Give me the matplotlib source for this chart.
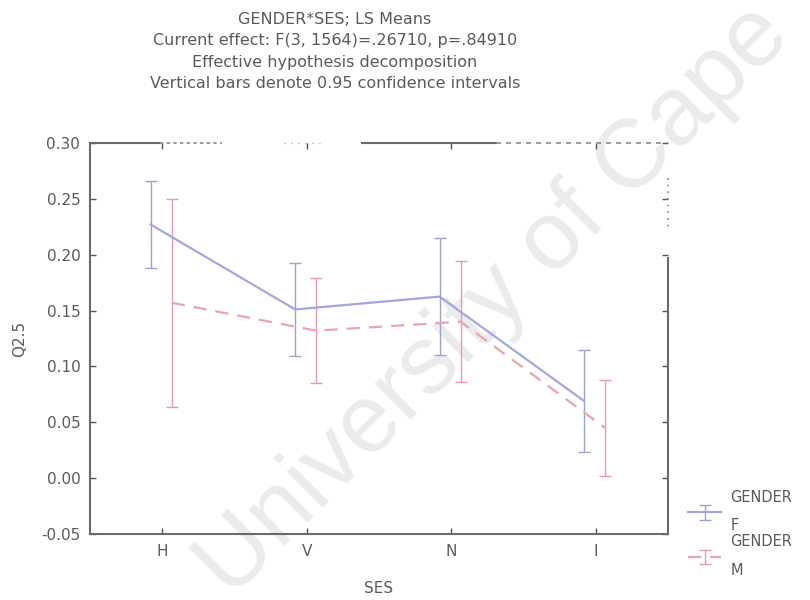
import numpy as np
import matplotlib
matplotlib.use("Agg")
import matplotlib.pyplot as plt
from matplotlib.ticker import MultipleLocator, FormatStrFormatter

plt.rcParams["font.family"] = ["DejaVu Sans"]
plt.rcParams["axes.unicode_minus"] = False

# LS means of Q2.5 by SES level, split by gender, with 95% CI half-widths
ses_levels = ["H", "V", "N", "I"]
female_means = [0.227, 0.151, 0.1625, 0.069]
female_ci = [0.039, 0.042, 0.0525, 0.046]
male_means = [0.157, 0.132, 0.140, 0.045]
male_ci = [0.093, 0.047, 0.054, 0.043]

title_lines = [
    "GENDER*SES; LS Means",
    "Current effect: F(3, 1564)=.26710, p=.84910",
    "Effective hypothesis decomposition",
    "Vertical bars denote 0.95 confidence intervals",
]

text_gray = "#5a5a5a"
blue = "#a3a7e0"
blue_bar = "#9aa3cf"
red = "#eba3b2"
red_bar = "#e89aaa"

fig = plt.figure(figsize=(8.1, 6.0), dpi=100)

# faint diagonal watermark behind everything
fig.text(0.285, 0.0, "University of Cape Town", rotation=45,
         rotation_mode="anchor", ha="left", va="baseline",
         fontsize=70, family="Liberation Sans", color="#ebebeb", zorder=0)

ax = fig.add_axes([90 / 810, 1 - 534 / 600, (668 - 90) / 810, (534 - 143) / 600])
ax.set_facecolor("none")
ax.set_zorder(2)

x = np.arange(len(ses_levels))
ax.errorbar(x - 0.08, female_means, yerr=female_ci, color=blue, lw=1.6,
            ls="-", ecolor=blue_bar, elinewidth=1.0, capsize=4, capthick=1.0,
            label="GENDER\nF")
ax.errorbar(x + 0.065, male_means, yerr=male_ci, color=red, lw=1.6,
            ls=(0, (6, 4)), ecolor=red_bar, elinewidth=1.0, capsize=4,
            capthick=1.0, label="GENDER\nM")

ax.set_xlim(-0.5, 3.5)
ax.set_ylim(-0.05, 0.30)
ax.set_xticks(x)
ax.set_xticklabels(ses_levels)
ax.yaxis.set_major_locator(MultipleLocator(0.05))
ax.yaxis.set_major_formatter(FormatStrFormatter("%.2f"))

ax.tick_params(axis="both", direction="in", length=4, width=1.0,
               color="#555555", labelcolor=text_gray, labelsize=11,
               top=True, right=True, pad=7)

for side in ("left", "bottom"):
    ax.spines[side].set_color("#6a6a6a")
    ax.spines[side].set_linewidth(1.5)
for side in ("top", "right"):
    ax.spines[side].set_visible(False)

# broken top and right frame lines
tr = ax.transAxes
def px_x(p):
    return (p - 90) / (668 - 90)
def px_y(p):
    return (534 - p) / (534 - 143)

ax.plot([px_x(90), px_x(160)], [1, 1], color="#6a6a6a", lw=1.5, transform=tr, clip_on=False)
ax.plot([px_x(160), px_x(222)], [1, 1], color="#8a8a8a", lw=1.2, ls=(0, (2, 2)), transform=tr, clip_on=False)
ax.plot([px_x(284), px_x(320)], [1, 1], color="#b0b0b0", lw=1.0, ls=(0, (1, 4)), transform=tr, clip_on=False)
ax.plot([px_x(362), px_x(496)], [1, 1], color="#6a6a6a", lw=1.5, transform=tr, clip_on=False)
ax.plot([px_x(496), px_x(668)], [1, 1], color="#8a8a8a", lw=1.2, ls=(0, (3, 3)), transform=tr, clip_on=False)
ax.plot([1, 1], [px_y(178), px_y(230)], color="#8a8a8a", lw=1.2, ls=(0, (1, 3)), transform=tr, clip_on=False)
ax.plot([1, 1], [px_y(258), px_y(534)], color="#6a6a6a", lw=1.5, transform=tr, clip_on=False)

ax.set_ylabel("Q2.5", color=text_gray, fontsize=11, labelpad=10)
ax.set_xlabel("SES", color=text_gray, fontsize=11, labelpad=16)

for i, line in enumerate(title_lines):
    fig.text(335 / 810, 1 - (20 + 21 * i) / 600, line, ha="center", va="center",
             fontsize=11.5, color=text_gray)

leg = ax.legend(loc="upper left", bbox_to_anchor=(682 / 810, 1 - 484 / 600),
                bbox_transform=fig.transFigure, frameon=False, fontsize=10.5,
                handlelength=2.3, handletextpad=0.6, labelspacing=0.1,
                borderaxespad=0)
for t in leg.get_texts():
    t.set_color(text_gray)
    t.set_linespacing(2.1)

fig.savefig("out.png", dpi=100)
